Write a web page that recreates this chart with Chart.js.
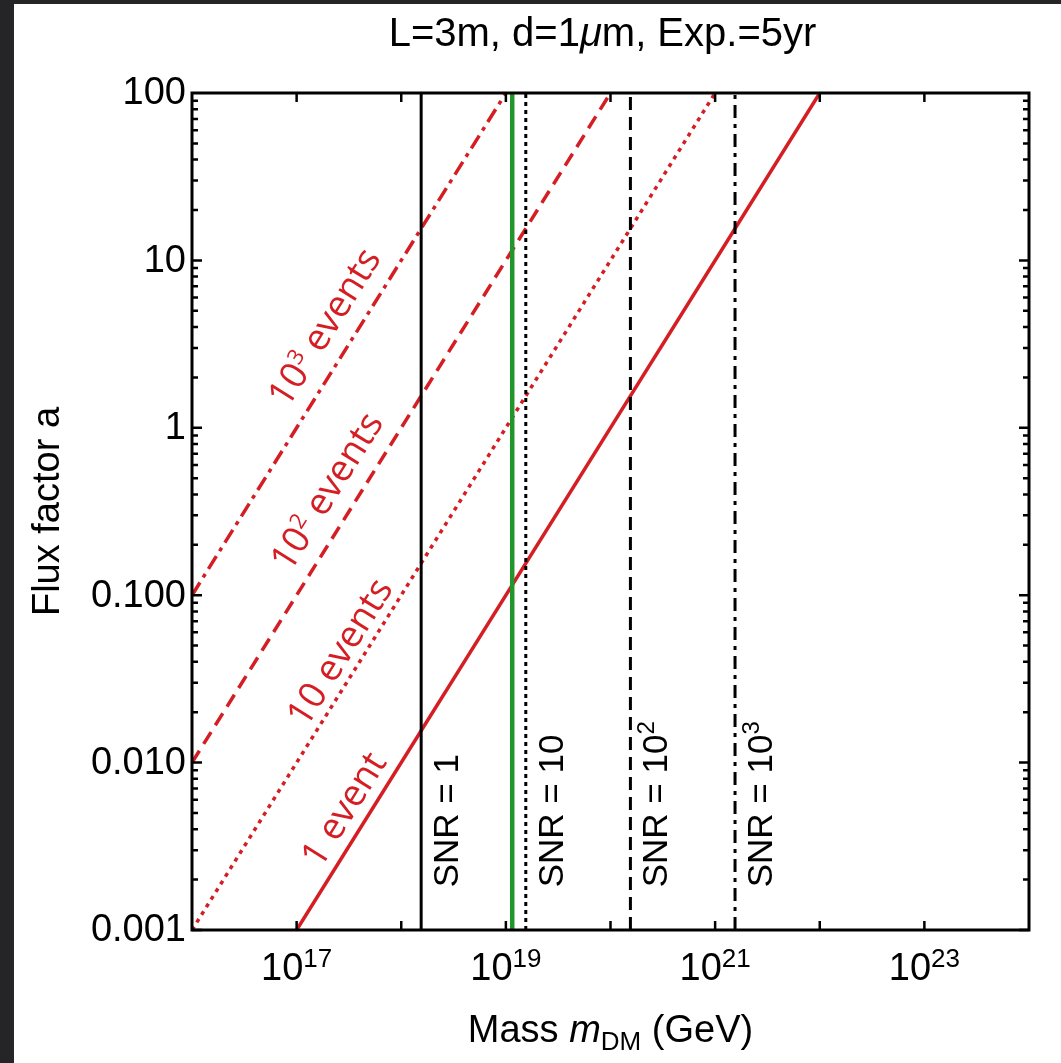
<!DOCTYPE html>
<html>
<head>
<meta charset="utf-8">
<script src="https://cdn.jsdelivr.net/npm/chart.js@4.4.1/dist/chart.umd.min.js"></script>
<style>
  html, body { margin: 0; padding: 0; background: #252527; }
  #wrap { position: absolute; left: 14px; top: 4px; width: 1047px; height: 1059px; background: #fff; }
</style>
</head>
<body>
<div id="wrap"><canvas id="fluxChart"></canvas></div>
<script>
// Axis ranges
const massRange = [1e16, 1e24];
const fluxRange = [1e-3, 100];

// Tick labels
const massTickValues = [1e17, 1e19, 1e21, 1e23];
const massTickExps = ['17', '19', '21', '23'];
const fluxTickValues = [100, 10, 1, 0.1, 0.01, 0.001];
const fluxTickLabels = ['100', '10', '1', '0.100', '0.010', '0.001'];

// Event-count lines (endpoints in mass, flux)
const eventNames = ['1 event', '10 events', '10² events', '10³ events'];
const eventMass = [[1e17, 1e22], [1e16, 1e21], [1e16, 1e20], [1e16, 1e19]];
const eventFlux = [[1e-3, 100], [1e-3, 100], [1e-2, 100], [1e-1, 100]];
const eventLabelMass = [2.9e17, 2.66e17, 2.0e17, 1.9e17];
const eventLabelFlux = [5.2e-3, 0.0452, 0.413, 3.95];

// SNR thresholds
const snrExps = ['', '', '2', '3'];
const snrBase = ['1', '10', '10', '10'];
const snrMass = [1.55e18, 1.55e19, 1.55e20, 1.55e21];
const snrLabelFlux = 1.8e-3;

// Green reference mass
const greenMass = 1.15e19;

const RED = 'rgb(212, 30, 36)';
const GREEN = 'rgb(34, 150, 44)';
const SANS = '"Liberation Sans", Arial, Helvetica, sans-serif';
const LABEL = '"Open Sans", sans-serif';

const redDash = [[], [4, 5], [14, 8], [15, 6, 4, 6]];
const snrDash = [[], [4, 4], [13, 7], [13, 6, 4, 6]];

const datasets = [];
datasets.push({
    label: 'green',
    data: [{ x: greenMass, y: fluxRange[0] }, { x: greenMass, y: fluxRange[1] }],
    borderColor: GREEN,
    borderWidth: 4.5,
    order: 0
});
snrMass.forEach((m, i) => {
    datasets.push({
        label: 'SNR ' + i,
        data: [{ x: m, y: fluxRange[0] }, { x: m, y: fluxRange[1] }],
        borderColor: '#000',
        borderWidth: 3,
        borderDash: snrDash[i],
        order: 1
    });
});
eventNames.forEach((name, i) => {
    datasets.push({
        label: name,
        data: eventMass[i].map((m, k) => ({ x: m, y: eventFlux[i][k] })),
        borderColor: RED,
        borderWidth: 3.5,
        borderDash: redDash[i],
        order: 2
    });
});

// draw a row of text pieces with their own font and vertical shift
const drawRuns = (ctx, runs, x, y, align) => {
    let total = 0;
    runs.forEach(r => { ctx.font = r.font; r.w = ctx.measureText(r.text).width; total += r.w; });
    let cx = align === 'center' ? x - total / 2 : x;
    runs.forEach(r => {
        ctx.font = r.font;
        ctx.fillText(r.text, cx, y + (r.dy || 0));
        cx += r.w;
    });
};

const decorations = {
    id: 'decorations',
    afterDatasetsDraw(chart) {
        const ctx = chart.ctx;
        const xs = chart.scales.x;
        const ys = chart.scales.y;
        const a = chart.chartArea;
        ctx.save();

        // frame
        ctx.strokeStyle = '#000';
        ctx.lineWidth = 3;
        ctx.strokeRect(a.left, a.top, a.right - a.left, a.bottom - a.top);

        // inward ticks
        ctx.lineWidth = 2.5;
        ctx.beginPath();
        for (let e = 17; e <= 23; e++) {
            const px = xs.getPixelForValue(Math.pow(10, e));
            ctx.moveTo(px, a.bottom); ctx.lineTo(px, a.bottom - 9);
            ctx.moveTo(px, a.top); ctx.lineTo(px, a.top + 9);
        }
        for (let e = -3; e <= 1; e++) {
            for (let k = 1; k <= 9; k++) {
                const v = k * Math.pow(10, e);
                const py = ys.getPixelForValue(v);
                const len = k === 1 ? 10 : 6;
                ctx.moveTo(a.left, py); ctx.lineTo(a.left + len, py);
                ctx.moveTo(a.right, py); ctx.lineTo(a.right - len, py);
            }
        }
        ctx.stroke();

        ctx.fillStyle = '#000';
        // y tick labels
        ctx.textAlign = 'right';
        ctx.textBaseline = 'middle';
        ctx.font = '38px ' + SANS;
        fluxTickValues.forEach((v, i) => {
            ctx.fillText(fluxTickLabels[i], a.left - 6, ys.getPixelForValue(v) + 1);
        });

        // x tick labels with exponents
        ctx.textAlign = 'left';
        ctx.textBaseline = 'alphabetic';
        massTickValues.forEach((v, i) => {
            drawRuns(ctx, [
                { text: '10', font: '38px ' + SANS },
                { text: massTickExps[i], font: '26px ' + SANS, dy: -13 }
            ], xs.getPixelForValue(v), a.bottom + 50, 'center');
        });

        // axis titles
        drawRuns(ctx, [
            { text: 'Mass ', font: '38px ' + SANS },
            { text: 'm', font: 'italic 38px ' + SANS },
            { text: 'DM', font: '26px ' + SANS, dy: 8 },
            { text: ' (GeV)', font: '38px ' + SANS }
        ], (a.left + a.right) / 2, a.bottom + 112, 'center');

        ctx.save();
        ctx.translate(45, (a.top + a.bottom) / 2);
        ctx.rotate(-Math.PI / 2);
        ctx.textAlign = 'center';
        ctx.font = '38px ' + SANS;
        ctx.fillText('Flux factor a', 0, 0);
        ctx.restore();

        // title
        drawRuns(ctx, [
            { text: 'L=3m, d=1', font: '40px ' + SANS },
            { text: 'μ', font: 'italic 40px ' + SANS },
            { text: 'm, Exp.=5yr', font: '40px ' + SANS }
        ], (a.left + a.right) / 2 - 8, 42, 'center');

        // SNR labels, vertical
        snrMass.forEach((m, i) => {
            ctx.save();
            ctx.translate(xs.getPixelForValue(m) + 37, ys.getPixelForValue(snrLabelFlux));
            ctx.rotate(-Math.PI / 2);
            const runs = [{ text: 'SNR = ' + snrBase[i], font: '35px ' + SANS }];
            if (snrExps[i]) runs.push({ text: snrExps[i], font: '24px ' + SANS, dy: -13 });
            drawRuns(ctx, runs, 0, 0, 'left');
            ctx.restore();
        });

        // event labels along the red lines
        const dx = xs.getPixelForValue(eventMass[0][1]) - xs.getPixelForValue(eventMass[0][0]);
        const dy = ys.getPixelForValue(eventFlux[0][1]) - ys.getPixelForValue(eventFlux[0][0]);
        const ang = Math.atan2(dy, dx);
        ctx.fillStyle = RED;
        ctx.textBaseline = 'middle';
        eventNames.forEach((name, i) => {
            ctx.save();
            ctx.translate(xs.getPixelForValue(eventLabelMass[i]), ys.getPixelForValue(eventLabelFlux[i]));
            ctx.rotate(ang);
            const font = '37px ' + LABEL;
            const small = '22px ' + LABEL;
            let runs;
            if (i >= 2) {
                runs = [
                    { text: '10', font: font },
                    { text: i === 2 ? '2' : '3', font: small, dy: -9 },
                    { text: ' events', font: font }
                ];
            } else {
                runs = [{ text: name, font: font }];
            }
            drawRuns(ctx, runs, 0, 0, 'center');
            ctx.restore();
        });

        ctx.restore();
    }
};

const ctx = document.getElementById('fluxChart').getContext('2d');
const chart = new Chart(ctx, {
    type: 'line',
    data: { datasets: datasets },
    options: {
        responsive: true,
        maintainAspectRatio: false,
        animation: false,
        elements: {
            point: { radius: 0 },
            line: { tension: 0, borderCapStyle: 'butt' }
        },
        layout: {
            padding: { left: 178, right: 32, top: 89, bottom: 133 }
        },
        plugins: {
            legend: { display: false },
            tooltip: { enabled: false }
        },
        scales: {
            x: { type: 'logarithmic', min: massRange[0], max: massRange[1], display: false },
            y: { type: 'logarithmic', min: fluxRange[0], max: fluxRange[1], display: false }
        }
    },
    plugins: [decorations]
});
</script>
</body>
</html>
